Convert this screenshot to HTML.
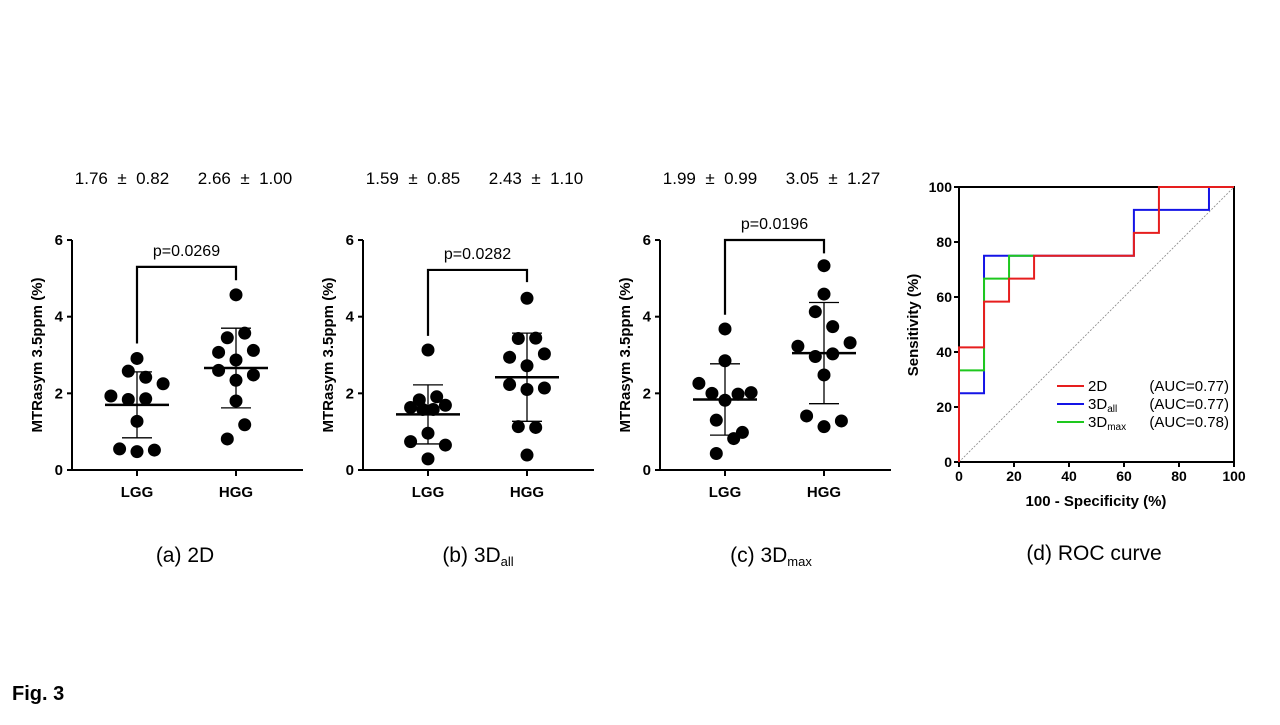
<!DOCTYPE html>
<html><head><meta charset="utf-8"><style>
body{margin:0;background:#fff;width:1280px;height:720px;overflow:hidden;font-family:"Liberation Sans",sans-serif}
svg text{font-family:"Liberation Sans",sans-serif}
</style></head><body>
<svg id="fig" width="1280" height="720" viewBox="0 0 1280 720">
<text x="12" y="700" font-size="20" font-weight="bold">Fig. 3</text>
</svg>
<script>
const groups = ["LGG","HGG"];
const yTicks = [0,2,4,6];
const pLabels = ["p=0.0269","p=0.0282","p=0.0196"];
const statLGG = ["1.76\u00a0\u00a0±\u00a0\u00a00.82","1.59\u00a0\u00a0±\u00a0\u00a00.85","1.99\u00a0\u00a0±\u00a0\u00a00.99"];
const statHGG = ["2.66\u00a0\u00a0±\u00a0\u00a01.00","2.43\u00a0\u00a0±\u00a0\u00a01.10","3.05\u00a0\u00a0±\u00a0\u00a01.27"];
const p1LGG = [2.91,2.58,2.42,2.25,1.93,1.84,1.86,1.27,0.55,0.48,0.52];
const p1HGG = [4.57,3.45,3.57,3.07,3.12,2.87,2.60,2.48,2.34,1.80,1.18,0.81];
const p2LGG = [3.13,1.83,1.91,1.63,1.69,1.58,1.58,0.96,0.74,0.65,0.29];
const p2HGG = [4.48,3.43,3.44,2.94,3.03,2.72,2.23,2.10,2.14,1.13,1.11,0.39];
const p3LGG = [3.68,2.85,2.26,2.00,1.98,2.02,1.82,1.30,0.98,0.82,0.43];
const p3HGG = [5.33,4.59,4.13,3.74,3.23,3.32,2.96,3.03,2.48,1.41,1.28,1.13];
const meanLGG = [1.70,1.45,1.84];
const meanHGG = [2.66,2.42,3.05];
const sdLGG = [0.86,0.77,0.93];
const sdHGG = [1.04,1.15,1.32];
const bracketTop = [5.3,5.22,6.0];
const bracketLeft = [3.3,3.5,4.05];
const bracketRight = [4.95,4.9,5.65];
const jLGG = [[0,-1,1,3,-3,-1,1,0,-2,0,2],[0,-1,1,-2,2,-0.6,0.6,0,-2,2,0],[0,0,-3,-1.5,1.5,3,0,-1,2,1,-1]];
const jHGG = [[0,-1,1,-2,2,0,-2,2,0,0,1,-1],[0,-1,1,-2,2,0,-2,0,2,-1,1,0],[0,0,-1,1,-3,3,-1,1,0,-2,2,0]];
const captions = ["(a) 2D","(b) 3D","(c) 3D"];
const capSubs = ["","all","max"];
const rocTicks = [0,20,40,60,80,100];
const roc2Dx = [0,0,9.1,9.1,18.2,18.2,27.3,27.3,63.6,63.6,72.7,72.7,100];
const roc2Dy = [0,41.7,41.7,58.3,58.3,66.7,66.7,75,75,83.3,83.3,100,100];
const rocAllx = [0,0,9.1,9.1,63.6,63.6,90.9,90.9,100];
const rocAlly = [0,25,25,75,75,91.7,91.7,100,100];
const rocMaxx = [0,0,9.1,9.1,18.2,18.2,27.3];
const rocMaxy = [0,33.3,33.3,66.7,66.7,75,75];

const NS="http://www.w3.org/2000/svg";
const svg=document.getElementById('fig');
function mk(tag,attrs,parent){const e=document.createElementNS(NS,tag);for(const k in attrs)e.setAttribute(k,attrs[k]);(parent||svg).appendChild(e);return e;}
function txt(s,attrs,parent){const e=mk('text',attrs,parent);e.textContent=s;return e;}

const panelOffsets=[0,291,588];
const yS=v=>470-v*38.33;
panelOffsets.forEach((off,i)=>{
  const g=mk('g',{});
  
  
  const ax=72+off, xL=137+off, xH=236+off;
  let a=mk('line',{x1:ax,y1:yS(6),x2:ax,y2:471,stroke:'#000','stroke-width':2},g);
  
  a=mk('line',{x1:ax-1,y1:470,x2:303+off,y2:470,stroke:'#000','stroke-width':2},g);
  
  yTicks.forEach(t=>{
    mk('line',{x1:ax-5,y1:yS(t),x2:ax,y2:yS(t),stroke:'#000','stroke-width':2},g);
    const tl=txt(String(t),{x:ax-9,y:yS(t)+5,'font-size':15,'font-weight':'bold','text-anchor':'end'},g);
    
  });
  [xL,xH].forEach((x,k)=>{
    mk('line',{x1:x,y1:470,x2:x,y2:476,stroke:'#000','stroke-width':2},g);
    const l=txt(groups[k],{x:x,y:497,'font-size':15,'font-weight':'bold','text-anchor':'middle'},g);
    
  });
  const yl=txt('MTRasym  3.5ppm  (%)',{x:0,y:0,'font-size':15,'font-weight':'bold','text-anchor':'middle',transform:`translate(${42+off},355) rotate(-90)`},g);
  
  const dataL=[p1LGG,p2LGG,p3LGG][i], dataH=[p1HGG,p2HGG,p3HGG][i];
  [[dataL,jLGG[i],xL],[dataH,jHGG[i],xH]].forEach(([d,j,cx])=>{
    d.forEach((v,n)=>{
      const c=mk('circle',{cx:cx+j[n]*8.7,cy:yS(v),r:6.5,fill:'#000'},g);
      
      
    });
  });
  [[meanLGG[i],sdLGG[i],xL],[meanHGG[i],sdHGG[i],xH]].forEach(([m,s,cx])=>{
    mk('line',{x1:cx-32,y1:yS(m),x2:cx+32,y2:yS(m),stroke:'#000','stroke-width':2.5},g);
    mk('line',{x1:cx,y1:yS(m-s),x2:cx,y2:yS(m+s),stroke:'#000','stroke-width':1.3},g);
    mk('line',{x1:cx-15,y1:yS(m-s),x2:cx+15,y2:yS(m-s),stroke:'#000','stroke-width':1.3},g);
    mk('line',{x1:cx-15,y1:yS(m+s),x2:cx+15,y2:yS(m+s),stroke:'#000','stroke-width':1.3},g);
  });
  const br=mk('polyline',{points:`${xL},${yS(bracketLeft[i])} ${xL},${yS(bracketTop[i])} ${xH},${yS(bracketTop[i])} ${xH},${yS(bracketRight[i])}`,fill:'none',stroke:'#000','stroke-width':2.2},g);
  
  const pt=txt(pLabels[i],{x:(xL+xH)/2,y:yS(bracketTop[i])-11,'font-size':16,'text-anchor':'middle'},g);
  
  let st=txt(statLGG[i],{x:xL-15,y:184,'font-size':17,'text-anchor':'middle'},g);
  
  st=txt(statHGG[i],{x:xH+9,y:184,'font-size':17,'text-anchor':'middle'},g);
  
  const cap=txt(captions[i],{x:[185,478,771][i],y:562,'font-size':21,'text-anchor':'middle'},g);
  
  if(capSubs[i]){const ts=mk('tspan',{'font-size':13,dy:4},cap);ts.textContent=capSubs[i];}
});

const rx=f=>959+f*2.75, ry=s=>462-s*2.75;
const rg=mk('g',{});


mk('line',{x1:rx(0),y1:ry(0),x2:rx(100),y2:ry(100),stroke:'#888','stroke-width':0.8,'stroke-dasharray':'2,1.5'},rg);
mk('rect',{x:rx(0),y:ry(100),width:275,height:275,fill:'none',stroke:'#000','stroke-width':2},rg);
rocTicks.forEach(t=>{
  mk('line',{x1:rx(t),y1:462,x2:rx(t),y2:467,stroke:'#000','stroke-width':2},rg);
  let l=txt(String(t),{x:rx(t),y:481,'font-size':14,'font-weight':'bold','text-anchor':'middle'},rg);
  
  mk('line',{x1:954,y1:ry(t),x2:959,y2:ry(t),stroke:'#000','stroke-width':2},rg);
  l=txt(String(t),{x:952,y:ry(t)+5,'font-size':14,'font-weight':'bold','text-anchor':'end'},rg);
  
});
let t1=txt('100 - Specificity (%)',{x:1096,y:506,'font-size':15,'font-weight':'bold','text-anchor':'middle'},rg);

t1=txt('Sensitivity (%)',{x:0,y:0,'font-size':15,'font-weight':'bold','text-anchor':'middle',transform:'translate(918,325) rotate(-90)'},rg);

[[rocAllx,rocAlly,'#1414e6','roc-curve-3d-all'],[rocMaxx,rocMaxy,'#1ec81e','roc-curve-3d-max'],[roc2Dx,roc2Dy,'#e61e1e','roc-curve-2d']].forEach(([xs,ys,c,n])=>{
  const pl=mk('polyline',{points:xs.map((x,k)=>rx(x)+','+ry(ys[k])).join(' '),fill:'none',stroke:c,'stroke-width':2},rg);
  
  
});
const legNames=['2D','3D','3D'], legSubs=['','all','max'], legAuc=['(AUC=0.77)','(AUC=0.77)','(AUC=0.78)'], legCol=['#e61e1e','#1414e6','#1ec81e'];
legNames.forEach((nm,k)=>{
  const y=[386,404,422][k];
  const lg=mk('g',{},rg);
  
  
  mk('line',{x1:1057,y1:y,x2:1084,y2:y,stroke:legCol[k],'stroke-width':2},lg);
  const t=txt(nm,{x:1088,y:y+5,'font-size':15},lg);
  if(legSubs[k]){const ts=mk('tspan',{'font-size':10,dy:3},t);ts.textContent=legSubs[k];}
  txt(legAuc[k],{x:1229,y:y+5,'font-size':15,'text-anchor':'end'},lg);
});
const rc=txt('(d) ROC curve',{x:1094,y:560,'font-size':21,'text-anchor':'middle'},rg);

</script>
</body></html>
